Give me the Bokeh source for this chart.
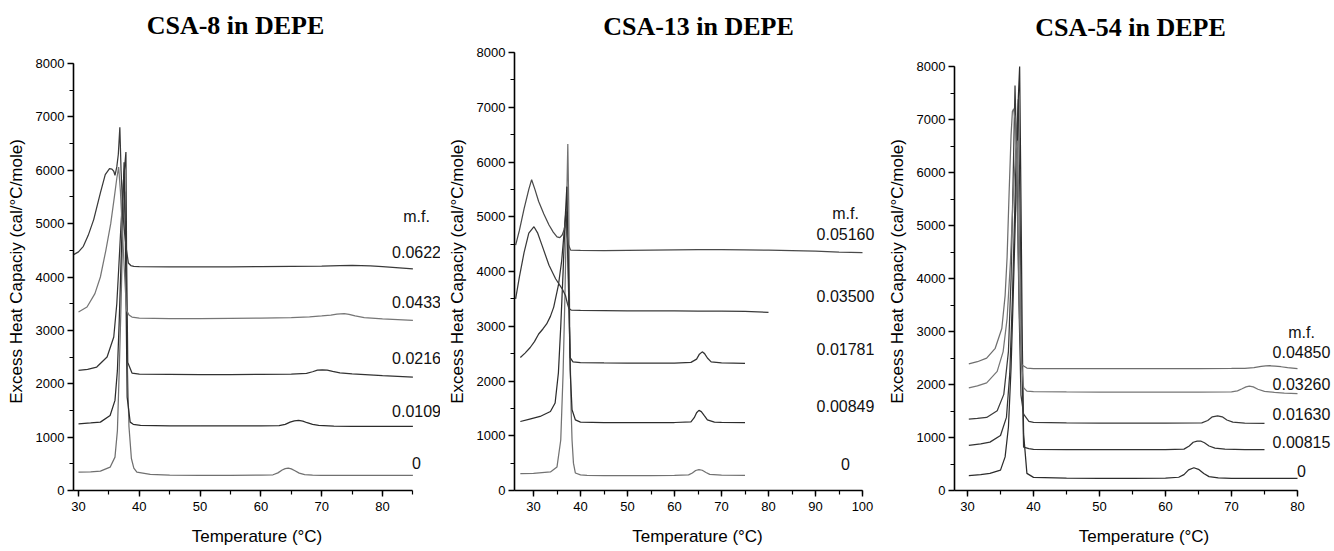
from bokeh.plotting import figure
from bokeh.layouts import row, column
from bokeh.models import SingleIntervalTicker, Range1d, ColumnDataSource
from bokeh.core.properties import value
from bokeh.embed import file_html
from bokeh.resources import INLINE

# ---------------- DATA ----------------
# CSA-8 in DEPE
csa8_labels = ["0", "0.0109", "0.0216", "0.0433", "0.0622"]
csa8_T_0 = [30.0, 32.0, 33.6, 35.2, 36.0, 36.4, 36.7, 37.0, 37.3, 37.6, 37.8, 38.0, 38.3, 38.7, 39.1, 39.6, 41.8, 45, 50, 55, 60, 62.0, 62.8, 63.5, 64.0, 64.5, 65.0, 65.6, 66.3, 67.2, 68.5, 70, 75, 80, 85]
csa8_cp_0 = [344, 350, 363, 437, 625, 1125, 2250, 3500, 5000, 5600, 4500, 2500, 1200, 600, 420, 344, 300, 290, 285, 285, 288, 295, 330, 385, 410, 419, 405, 370, 325, 298, 288, 283, 282, 282, 282]
csa8_T_1 = [30.0, 32.0, 33.6, 35.2, 36.0, 36.4, 36.7, 37.0, 37.3, 37.5, 37.7, 38.0, 38.5, 39.0, 40.2, 45, 50, 55, 60, 63.0, 64.0, 64.8, 65.5, 66.2, 66.9, 67.6, 68.5, 69.5, 72, 75, 80, 85]
csa8_cp_1 = [1250, 1265, 1281, 1406, 1688, 2250, 3188, 4300, 5400, 6150, 4800, 1750, 1281, 1240, 1219, 1212, 1210, 1210, 1212, 1215, 1240, 1280, 1305, 1312, 1300, 1270, 1240, 1222, 1205, 1202, 1200, 1200]
csa8_T_2 = [30.0, 31.5, 33.0, 34.7, 35.8, 36.3, 36.6, 37.0, 37.4, 37.8, 37.9, 38.1, 38.8, 40, 45, 50, 55, 60, 65, 67.5, 68.5, 69.3, 70.1, 70.9, 71.8, 73, 75, 80, 85]
csa8_cp_2 = [2250, 2270, 2313, 2500, 2875, 3500, 4125, 5000, 5800, 6340, 4500, 2400, 2200, 2180, 2175, 2172, 2172, 2175, 2180, 2195, 2225, 2255, 2262, 2255, 2230, 2205, 2185, 2150, 2125]
csa8_T_3 = [30.0, 31.4, 32.7, 33.6, 34.5, 35.3, 35.9, 36.3, 36.6, 36.9, 37.2, 37.6, 37.9, 38.3, 38.8, 40, 45, 50, 55, 60, 65, 68, 70, 71.5, 72.5, 73.7, 74.5, 75.5, 77, 80, 85]
csa8_cp_3 = [3344, 3438, 3688, 4000, 4500, 5000, 5500, 5850, 6060, 5600, 4900, 4000, 3375, 3290, 3250, 3230, 3220, 3220, 3225, 3230, 3240, 3255, 3270, 3285, 3305, 3312, 3300, 3270, 3240, 3215, 3188]
csa8_T_4 = [29.2, 30.0, 30.8, 31.6, 32.5, 33.6, 34.4, 35.1, 35.5, 35.8, 36.0, 36.3, 36.55, 36.8, 37.0, 37.3, 37.6, 37.9, 38.2, 38.6, 39.1, 40, 45, 50, 55, 60, 65, 70, 73, 75, 78, 80, 85]
csa8_cp_4 = [4419, 4470, 4575, 4780, 5075, 5575, 5919, 6031, 6020, 5981, 5906, 6063, 6300, 6806, 6000, 5200, 4800, 4500, 4263, 4215, 4200, 4195, 4188, 4188, 4190, 4195, 4200, 4205, 4215, 4219, 4210, 4195, 4150]

# CSA-13 in DEPE
csa13_labels = ["0", "0.00849", "0.01781", "0.03500", "0.05160"]
csa13_T_0 = [27.2, 30, 33.6, 35.0, 35.8, 36.3, 36.7, 37.0, 37.3, 37.5, 37.7, 38.0, 38.2, 38.5, 38.9, 40, 41.4, 45, 50, 55, 60, 63, 63.8, 64.5, 65.2, 65.9, 66.7, 67.5, 70, 75]
csa13_cp_0 = [307, 315, 338, 430, 922, 2151, 3600, 5000, 6330, 5200, 3000, 1500, 922, 500, 320, 285, 277, 270, 270, 272, 275, 285, 320, 365, 381, 370, 330, 295, 280, 277]
csa13_T_1 = [27.2, 29, 31.4, 33.6, 34.6, 35.3, 35.8, 36.3, 36.7, 37.1, 37.4, 37.8, 38.2, 38.9, 40, 45, 50, 55, 60, 63.5, 64.2, 64.7, 65.2, 65.7, 66.3, 67.0, 68.5, 70, 75]
csa13_cp_1 = [1260, 1300, 1352, 1444, 1598, 2151, 3000, 4000, 4900, 5550, 4200, 2200, 1475, 1291, 1250, 1242, 1240, 1240, 1242, 1255, 1330, 1420, 1463, 1440, 1370, 1290, 1250, 1245, 1242]
csa13_T_2 = [27.2, 28.2, 29.3, 30.2, 31.1, 32.0, 32.8, 33.6, 34.3, 35.3, 36.0, 36.5, 36.9, 37.2, 37.5, 37.8, 38.4, 40, 45, 50, 55, 60, 63.5, 64.7, 65.3, 65.9, 66.4, 67.0, 67.8, 70, 75]
csa13_cp_2 = [2428, 2510, 2612, 2720, 2858, 2950, 3042, 3180, 3350, 3749, 4200, 4700, 5100, 4600, 3500, 2428, 2348, 2336, 2330, 2325, 2325, 2328, 2340, 2400, 2490, 2532, 2500, 2420, 2350, 2330, 2323]
csa13_T_3 = [26.2, 27.0, 28.0, 29.0, 30.1, 30.9, 31.8, 33.3, 34.7, 36.1, 36.8, 37.2, 37.5, 38.0, 40, 45, 50, 55, 60, 65, 70, 75, 80]
csa13_cp_3 = [3500, 3900, 4350, 4700, 4818, 4700, 4481, 4114, 3868, 3684, 3562, 3420, 3330, 3295, 3288, 3285, 3282, 3280, 3280, 3278, 3275, 3272, 3255]
csa13_T_4 = [26.2, 27.0, 28.0, 29.0, 29.6, 30.3, 31.1, 32.2, 33.3, 34.2, 35.0, 35.6, 36.1, 36.5, 36.8, 37.1, 37.4, 37.9, 40, 45, 50, 55, 60, 65, 70, 75, 80, 85, 90, 95, 100]
csa13_cp_4 = [4481, 4750, 5150, 5500, 5677, 5500, 5278, 5050, 4849, 4720, 4634, 4620, 4666, 4760, 4879, 4700, 4500, 4390, 4385, 4380, 4385, 4390, 4395, 4400, 4400, 4395, 4390, 4380, 4370, 4355, 4343]

# CSA-54 in DEPE
csa54_labels = ["0", "0.00815", "0.01630", "0.03260", "0.04850"]
csa54_T_0 = [30.2, 32.0, 33.4, 35.0, 35.7, 36.2, 36.6, 36.9, 37.2, 37.5, 37.7, 37.9, 38.1, 38.3, 38.5, 39.0, 40.0, 45, 50, 55, 60, 62.0, 62.8, 63.5, 64.3, 65.0, 65.8, 66.6, 68, 70, 75, 80]
csa54_cp_0 = [280, 300, 323, 385, 634, 1193, 2311, 3553, 4900, 6300, 7400, 8000, 5500, 2800, 1068, 323, 248, 235, 230, 230, 232, 250, 300, 390, 429, 400, 320, 262, 240, 230, 230, 230]
csa54_T_1 = [30.2, 32.0, 33.4, 35.0, 35.9, 36.4, 36.8, 37.1, 37.4, 37.7, 37.9, 38.2, 38.5, 39.3, 40, 45, 50, 55, 60, 62.8, 63.6, 64.2, 64.8, 65.4, 65.9, 66.6, 67.5, 69.0, 72, 75]
csa54_cp_1 = [851, 880, 913, 1037, 1379, 2200, 3600, 5000, 6500, 7380, 5800, 2800, 820, 789, 775, 770, 770, 770, 772, 780, 840, 910, 932, 930, 900, 840, 800, 780, 772, 770]
csa54_T_2 = [30.2, 31.5, 32.9, 34.5, 35.5, 36.2, 36.6, 36.9, 37.2, 37.5, 37.8, 38.1, 38.5, 39.3, 40, 45, 50, 55, 60, 65.5, 66.4, 67.1, 67.9, 68.6, 69.3, 70.2, 72, 75]
csa54_cp_2 = [1348, 1360, 1379, 1503, 1814, 2621, 4000, 5800, 7640, 6000, 3500, 1800, 1441, 1304, 1285, 1275, 1273, 1270, 1270, 1275, 1320, 1390, 1410, 1390, 1330, 1290, 1272, 1267]
csa54_T_3 = [30.2, 31.5, 32.9, 34.5, 35.4, 36.0, 36.5, 36.9, 37.3, 37.6, 37.9, 38.2, 38.5, 39.0, 40, 45, 50, 55, 60, 65, 70, 70.9, 71.6, 72.2, 72.7, 73.3, 74.0, 75, 76.5, 78, 80]
csa54_cp_3 = [1938, 1975, 2031, 2248, 2621, 3242, 4300, 5500, 6400, 6600, 4500, 2400, 1938, 1876, 1865, 1860, 1857, 1857, 1857, 1857, 1862, 1880, 1920, 1955, 1969, 1955, 1910, 1870, 1850, 1838, 1826]
csa54_T_4 = [30.2, 31.5, 32.9, 34.2, 35.2, 35.7, 36.0, 36.3, 36.6, 36.8, 37.0, 37.3, 37.6, 37.9, 38.2, 39.0, 40, 45, 50, 55, 60, 65, 70, 72, 73.4, 74.5, 75.2, 75.8, 76.6, 77.5, 78.5, 80]
csa54_cp_4 = [2391, 2430, 2497, 2683, 3056, 3677, 4400, 5600, 6700, 7150, 7200, 6900, 5000, 3200, 2373, 2311, 2300, 2298, 2298, 2298, 2298, 2300, 2302, 2305, 2318, 2340, 2352, 2354, 2348, 2335, 2318, 2298]

y_title = "Excess Heat Capaciy (cal/°C/mole)"
x_title = "Temperature (°C)"

# ---------------- LAYOUT / STYLE ----------------
SANS = "Liberation Sans"
PAGE_H = 550
TITLE_H = 45         # height of the title strip (px)
FRAME_TOP = 52       # page px of plot frame top
FRAME_BOTTOM = 490   # page px of plot frame bottom (x-axis)


def panel_ranges(geom):
    fl, w, bl = geom["fig_left"], geom["width"], geom["border_left"]
    x30, xs = geom["x30"], geom["xscale"]
    ks = (FRAME_BOTTOM - geom["y8000"]) / 8000.0

    def dx(px):
        return 30 + (px - x30) / xs

    def dy(py):
        return (FRAME_BOTTOM - py) / ks

    return dx, dy, dx(fl + bl), dx(fl + w)


def make_title(title, geom):
    dx, dy, x_start, x_end = panel_ranges(geom)
    t = figure(width=geom["width"], height=TITLE_H,
               x_range=Range1d(x_start, x_end), y_range=Range1d(0, TITLE_H),
               output_backend="svg", toolbar_location=None, title=None,
               x_axis_location=None, y_axis_location=None,
               min_border_left=geom["border_left"], min_border_right=0,
               min_border_top=0, min_border_bottom=0)
    t.outline_line_color = None
    t.grid.visible = False
    tx, ty = geom["title_pos"]
    t.text(x=[dx(tx)], y=[TITLE_H - ty], text=[title], text_align="center",
           text_baseline="middle", text_font=value("Liberation Serif"),
           text_font_size="26px", text_font_style="bold", text_color="black")
    return t


def make_panel(curves, colors, labels, geom):
    dx, dy, x_start, x_end = panel_ranges(geom)
    y_end = dy(FRAME_TOP)
    p = figure(width=geom["width"], height=PAGE_H - TITLE_H,
               x_range=Range1d(x_start, x_end), y_range=Range1d(0, y_end),
               output_backend="svg", toolbar_location=None, title=None,
               min_border_left=geom["border_left"], min_border_right=0,
               min_border_top=FRAME_TOP - TITLE_H,
               min_border_bottom=PAGE_H - FRAME_BOTTOM)
    p.outline_line_color = None
    p.grid.visible = False

    for (T, cp), c in zip(curves, colors):
        p.line(T, cp, line_color=c, line_width=1.25)

    lx = dx(geom["label_px"])
    src = ColumnDataSource(dict(x=[lx] * (len(labels) + 1),
                                y=[dy(v) for v in geom["label_py"]],
                                t=list(labels) + ["m.f."]))
    p.text(x="x", y="y", text="t", source=src, text_align="center",
           text_baseline="middle", text_font=value(SANS),
           text_font_size="16px", text_color="#111111")

    p.xaxis.ticker = SingleIntervalTicker(interval=10, num_minor_ticks=2)
    p.yaxis.ticker = SingleIntervalTicker(interval=1000, num_minor_ticks=2)
    p.xaxis.bounds = (x_start, geom["axis_end"])
    p.yaxis.bounds = (0, 8000)
    for ax in (p.xaxis[0], p.yaxis[0]):
        ax.axis_line_width = 1.6
        ax.axis_line_color = "black"
        ax.major_tick_line_width = 1.4
        ax.minor_tick_line_width = 1.2
        ax.major_tick_line_color = "black"
        ax.minor_tick_line_color = "black"
        ax.major_tick_in = 0
        ax.major_tick_out = 6
        ax.minor_tick_in = 0
        ax.minor_tick_out = 4
        ax.major_label_text_font = SANS
        ax.major_label_text_font_size = "13px"
        ax.major_label_text_color = "black"
        ax.major_label_standoff = 3
        ax.axis_label_text_font = SANS
        ax.axis_label_text_font_size = "17px"
        ax.axis_label_text_font_style = "normal"
        ax.axis_label_text_color = "black"
    p.xaxis.major_label_standoff = 5
    p.yaxis.axis_label = y_title
    p.yaxis.axis_label_standoff = 7
    p.xaxis.axis_label = x_title
    p.xaxis.axis_label_standoff = 13
    return p


geom1 = dict(fig_left=0, width=440, border_left=73, x30=78, xscale=6.08,
             y8000=63, axis_end=85, label_px=416,
             label_py=[462, 410, 357, 301, 251, 216], title_pos=(235, 25))
geom2 = dict(fig_left=440, width=440, border_left=74, x30=533, xscale=4.7,
             y8000=52, axis_end=100, label_px=845,
             label_py=[463, 405, 348, 295, 233, 213], title_pos=(698, 25.5))
geom3 = dict(fig_left=880, width=453, border_left=74, x30=967, xscale=6.6,
             y8000=66, axis_end=80, label_px=1301,
             label_py=[470, 441, 413, 383, 351, 332], title_pos=(1130, 26.7))

t1 = make_title("CSA-8 in DEPE", geom1)
t2 = make_title("CSA-13 in DEPE", geom2)
t3 = make_title("CSA-54 in DEPE", geom3)

p1 = make_panel([(csa8_T_0, csa8_cp_0), (csa8_T_1, csa8_cp_1), (csa8_T_2, csa8_cp_2),
                 (csa8_T_3, csa8_cp_3), (csa8_T_4, csa8_cp_4)],
                ["#707070", "#2c2c2c", "#333333", "#767676", "#3a3a3a"],
                csa8_labels, geom1)
p2 = make_panel([(csa13_T_0, csa13_cp_0), (csa13_T_1, csa13_cp_1), (csa13_T_2, csa13_cp_2),
                 (csa13_T_3, csa13_cp_3), (csa13_T_4, csa13_cp_4)],
                ["#727272", "#2c2c2c", "#333333", "#3a3a3a", "#4a4a4a"],
                csa13_labels, geom2)
p3 = make_panel([(csa54_T_0, csa54_cp_0), (csa54_T_1, csa54_cp_1), (csa54_T_2, csa54_cp_2),
                 (csa54_T_3, csa54_cp_3), (csa54_T_4, csa54_cp_4)],
                ["#2c2c2c", "#333333", "#3a3a3a", "#767676", "#6e6e6e"],
                csa54_labels, geom3)

layout = column(row(t1, t2, t3), row(p1, p2, p3))
open("out.html", "w").write(file_html(layout, INLINE))
